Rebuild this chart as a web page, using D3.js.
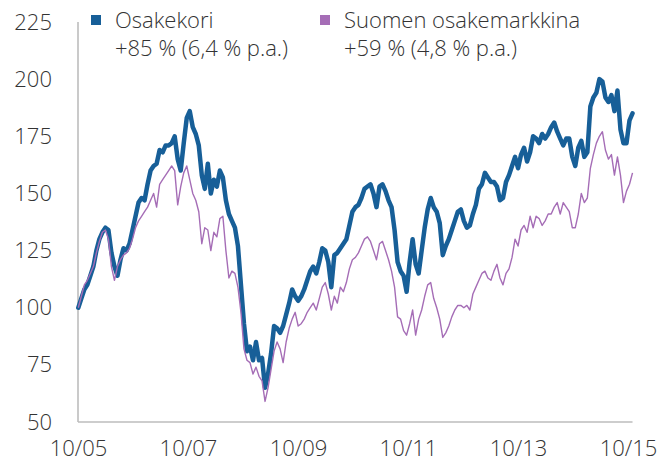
<!DOCTYPE html>
<html>
<head>
<meta charset="utf-8">
<script src="https://cdn.jsdelivr.net/npm/d3@7"></script>
<style>
  body { margin: 0; background: #fff; }
  #chart text { font-family: "Open Sans", sans-serif; font-weight: 300; fill: #333; }
</style>
</head>
<body>
<div id="chart"></div>
<script>
// index values (start = 100), one reading every 20 days from early Oct 2005
const osakekori = [
  100, 104, 108, 110, 114, 118, 125, 130, 133, 135,
  134, 124, 118, 114, 121, 126, 125, 128, 134, 140,
  146, 148, 147, 154, 160, 162, 163, 169, 168, 171,
  171, 172, 175, 165, 160, 172, 183, 186, 179, 176,
  171, 158, 152, 163, 150, 156, 153, 160, 157, 147,
  141, 138, 135, 127, 110, 93, 81, 83, 77, 85,
  77, 78, 65, 71, 80, 92, 91, 89, 92, 97,
  102, 108, 105, 103, 105, 108, 112, 116, 118, 115,
  120, 126, 125, 120, 109, 123, 124, 126, 128, 130,
  136, 142, 144, 145, 148, 152, 153, 154, 150, 144,
  153, 154, 151, 147, 144, 134, 120, 116, 114, 107,
  120, 130, 119, 115, 125, 135, 143, 148, 144, 142,
  137, 123, 127, 130, 134, 138, 142, 143, 138, 135,
  136, 141, 145, 152, 154, 159, 157, 155, 155, 153,
  147, 148, 155, 158, 162, 166, 161, 167, 170, 164,
  168, 175, 174, 172, 176, 174, 176, 179, 181, 177,
  174, 171, 174, 174, 166, 162, 170, 173, 166, 168,
  188, 192, 194, 200, 199, 192, 190, 193, 186, 195,
  178, 172, 172, 182, 185
];

const suomenMarkkina = [
  100, 105, 110, 112, 115, 118, 124, 129, 133, 134,
  130, 118, 112, 118, 121, 123, 124, 126, 130, 135,
  138, 140, 142, 144, 147, 150, 144, 154, 156, 158,
  160, 162, 160, 145, 153, 159, 162, 156, 150, 147,
  142, 128, 135, 134, 125, 133, 131, 139, 140, 125,
  113, 116, 115, 109, 98, 82, 77, 76, 71, 74,
  70, 68, 59, 65, 73, 81, 85, 82, 76, 85,
  91, 95, 98, 92, 93, 95, 98, 100, 102, 99,
  104, 109, 111, 106, 99, 105, 102, 109, 107, 111,
  117, 121, 122, 124, 127, 130, 131, 129, 125, 121,
  128, 129, 125, 121, 116, 109, 96, 95, 90, 88,
  93, 99, 88, 95, 99, 105, 110, 111, 104, 100,
  95, 87, 89, 92, 96, 99, 101, 101, 100, 101,
  99, 106, 109, 112, 115, 116, 113, 112, 116, 119,
  113, 110, 115, 117, 122, 130, 127, 134, 136, 133,
  140, 135, 140, 139, 136, 138, 141, 141, 144, 146,
  141, 146, 144, 142, 135, 135, 141, 150, 146, 148,
  161, 167, 172, 175, 177, 169, 165, 167, 158, 166,
  158, 146, 151, 154, 159
];

const seriesNames = ["Osakekori", "Suomen osakemarkkina"];
const seriesNotes = ["+85 % (6,4 % p.a.)", "+59 % (4,8 % p.a.)"];
const xTickLabels = ["10/05", "10/07", "10/09", "10/11", "10/13", "10/15"];
const xTickYears = [2005, 2007, 2009, 2011, 2013, 2015];
const yTicks = [50, 75, 100, 125, 150, 175, 200, 225];

const colors = ["#175f98", "#a56db6"];

const draw = (totalWidth, totalHeight) => {
  const margin = { top: 22, right: 31, bottom: 43, left: 78 },
    width = totalWidth - margin.left - margin.right,
    height = totalHeight - margin.top - margin.bottom;

  const startDate = new Date(2005, 9, 3);
  const dates = osakekori.map((d, i) => d3.timeDay.offset(startDate, i * 20));

  const svg = d3
    .select("#chart")
    .append("svg")
    .attr("width", totalWidth)
    .attr("height", totalHeight)
    .append("g")
    .attr("transform", "translate(" + margin.left + "," + margin.top + ")");

  const x = d3
    .scaleTime()
    .domain([new Date(2005, 9, 1), new Date(2015, 9, 1)])
    .range([0, 550]);

  const y = d3.scaleLinear().domain([50, 225]).range([height, 0]);

  // axes: plain grey lines, no tick marks
  svg
    .append("g")
    .attr("transform", "translate(0," + height + ")")
    .call(
      d3
        .axisBottom(x)
        .tickValues(xTickYears.map((yr) => new Date(yr, 9, 1)))
        .tickFormat((d, i) => xTickLabels[i])
        .tickSize(0)
        .tickPadding(18)
    )
    .call((g) => g.select(".domain").remove())
    .call((g) => g.selectAll("text").attr("font-size", 22));

  svg
    .append("g")
    .call(d3.axisLeft(y).tickValues(yTicks).tickSize(0).tickPadding(26))
    .call((g) => g.select(".domain").remove())
    .call((g) => g.selectAll("text").attr("font-size", 22));

  svg
    .append("line")
    .attr("x1", 0)
    .attr("x2", 0)
    .attr("y1", 0)
    .attr("y2", height)
    .attr("stroke", "#bdbdbd")
    .attr("stroke-width", 1.6);

  svg
    .append("line")
    .attr("x1", 0)
    .attr("x2", x(dates[dates.length - 1]))
    .attr("y1", height)
    .attr("y2", height)
    .attr("stroke", "#bdbdbd")
    .attr("stroke-width", 1.6);

  const line = d3
    .line()
    .x((d, i) => x(dates[i]))
    .y((d) => y(d));

  svg
    .append("path")
    .datum(osakekori)
    .attr("fill", "none")
    .attr("stroke", colors[0])
    .attr("stroke-width", 4.5)
    .attr("stroke-linejoin", "round")
    .attr("stroke-linecap", "round")
    .attr("d", line);

  svg
    .append("path")
    .datum(suomenMarkkina)
    .attr("fill", "none")
    .attr("stroke", colors[1])
    .attr("stroke-width", 1.4)
    .attr("stroke-linejoin", "round")
    .attr("d", line);

  // legend
  const legend = svg
    .selectAll(".legend")
    .data(seriesNames)
    .enter()
    .append("g")
    .attr("class", "legend")
    .attr("transform", (d, i) => "translate(" + (13 + i * 229) + ",-7)");

  legend
    .append("rect")
    .attr("width", 10)
    .attr("height", 10)
    .attr("fill", (d, i) => colors[i]);

  legend
    .append("text")
    .attr("x", 24)
    .attr("y", 13)
    .attr("font-size", 22)
    .text((d) => d);

  legend
    .append("text")
    .attr("x", 24)
    .attr("y", 41)
    .attr("font-size", 22)
    .text((d, i) => seriesNotes[i]);
};

draw(659, 465);
</script>
</body>
</html>
